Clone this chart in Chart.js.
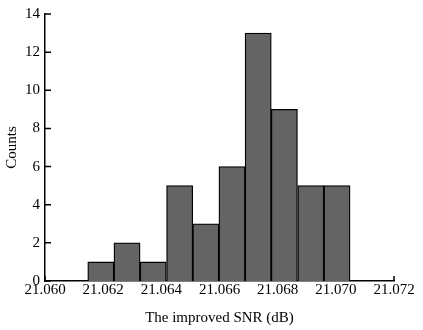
<!DOCTYPE html>
<html>
<head>
<meta charset="utf-8">
<script src="https://cdn.jsdelivr.net/npm/chart.js@4.4.4/dist/chart.umd.min.js"></script>
<style>
  html, body { margin: 0; padding: 0; background: #fff; }
  #wrap { width: 423px; height: 330px; }
</style>
</head>
<body>
<div id="wrap"><canvas id="hist" width="423" height="330"></canvas></div>
<script>
// bin centres of the histogram (improved SNR, dB) and the counts in each bin
const binCenters = [21.06192, 21.06282, 21.06372, 21.06463, 21.06553,
                    21.06643, 21.06733, 21.06823, 21.06914, 21.07004];
const counts = [1, 2, 1, 5, 3, 6, 13, 9, 5, 5];

const xTitle = "The improved SNR (dB)";
const yTitle = "Counts";

const serif = "'Liberation Serif', 'Times New Roman', serif";

// MATLAB-style ticks pointing into the axes
const inwardTicks = {
  id: "inwardTicks",
  beforeDatasetsDraw(chart) {
    const { ctx, scales: { x, y } } = chart;
    ctx.save();
    ctx.strokeStyle = "#000";
    ctx.lineWidth = 1.5;
    ctx.beginPath();
    x.ticks.forEach((t) => {
      const px = x.getPixelForValue(t.value);
      ctx.moveTo(px, x.top);
      ctx.lineTo(px, x.top - 5);
    });
    y.ticks.forEach((t) => {
      const py = y.getPixelForValue(t.value);
      ctx.moveTo(y.right, py);
      ctx.lineTo(y.right + 6, py);
    });
    ctx.stroke();
    ctx.restore();
  },
};

const data = {
  datasets: [
    {
      label: "Counts",
      data: binCenters.map((c, i) => ({ x: c, y: counts[i] })),
      backgroundColor: "#646464",
      borderColor: "#000000",
      borderWidth: 1.3,
      barPercentage: 1,
      categoryPercentage: 1,
    },
  ],
};

const options = {
  responsive: false,
  animation: false,
  layout: { padding: { top: 11, right: 29, left: 0, bottom: 0 } },
  plugins: { legend: { display: false }, tooltip: { enabled: false } },
  scales: {
    x: {
      type: "linear",
      offset: false,
      min: 21.060,
      max: 21.072,
      grid: { display: false, drawTicks: false },
      border: { display: true, color: "#000", width: 1.5 },
      ticks: {
        stepSize: 0.002,
        autoSkip: false,
        maxRotation: 0,
        padding: 0,
        color: "#000",
        font: { family: serif, size: 15 },
        callback: (v) => v.toFixed(3),
      },
      title: {
        display: true,
        text: xTitle,
        color: "#000",
        font: { family: serif, size: 15 },
        padding: { top: 0, bottom: 3 },
      },
      afterFit(scale) { scale.height = 49; },
    },
    y: {
      min: 0,
      max: 14,
      grid: { display: false, drawTicks: false },
      border: { display: true, color: "#000", width: 1.5 },
      ticks: {
        stepSize: 2,
        padding: 5,
        color: "#000",
        font: { family: serif, size: 15 },
      },
      title: {
        display: true,
        text: yTitle,
        color: "#000",
        font: { family: serif, size: 15 },
        padding: { top: 3, bottom: 0 },
      },
      afterFit(scale) { scale.width = 45; },
    },
  },
};

new Chart(document.getElementById("hist"), {
  type: "bar",
  data,
  options,
  plugins: [inwardTicks],
});
</script>
</body>
</html>
